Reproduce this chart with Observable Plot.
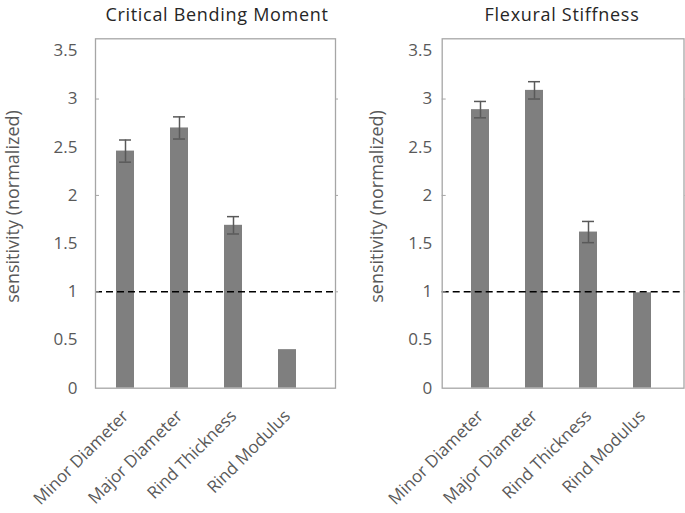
<!DOCTYPE html>
<html>
<head>
<meta charset="utf-8">
<script src="https://cdn.jsdelivr.net/npm/d3@7"></script>
<script src="https://cdn.jsdelivr.net/npm/@observablehq/plot@0.6"></script>
<style>
  html, body { margin: 0; padding: 0; background: #fff; }
  #wrap { position: relative; width: 685px; height: 513px; font-family: "Open Sans", sans-serif; }
  .panel { position: absolute; top: 0; }
  .title { position: absolute; top: 2px; font-size: 18px; line-height: 25px; letter-spacing: 0.7px; color: #262626; text-align: center; white-space: nowrap; transform: translateX(-50%); }
</style>
</head>
<body>
<div id="wrap"></div>
<script>
// ---- data ----
const categories = ["Minor Diameter", "Major Diameter", "Rind Thickness", "Rind Modulus"];
const titles = ["Critical Bending Moment", "Flexural Stiffness"];
const yLabel = "sensitivity (normalized)";
const yTicks = [0, 0.5, 1, 1.5, 2, 2.5, 3, 3.5];
const yMinorTicks = [1, 2, 3];
const momentValues = [2.46, 2.70, 1.69, 0.40];
const momentErrors = [0.115, 0.115, 0.09, 0];
const stiffnessValues = [2.89, 3.09, 1.62, 0.99];
const stiffnessErrors = [0.085, 0.09, 0.11, 0];
const referenceLine = [1];

function panel(values, errors, cfg) {
  const data = categories.map((c, i) => ({cat: c, v: values[i], e: errors[i]}));
  const err = data.filter(d => d.e > 0);
  return Plot.plot({
    width: cfg.width,
    height: 513,
    marginTop: 38.3,
    marginBottom: 125.3,
    marginLeft: cfg.marginLeft,
    marginRight: cfg.marginRight,
    style: {fontFamily: "Open Sans, sans-serif", fontSize: "17px", color: "#595959", background: "transparent", overflow: "visible"},
    x: {domain: categories, range: cfg.xRange, paddingInner: 0.667, paddingOuter: 0.333, axis: null},
    y: {domain: [0, 3.625], axis: null},
    marks: [
      Plot.barY(data, {x: "cat", y: "v", fill: "#7f7f7f"}),
      Plot.ruleX(err, {x: "cat", y1: d => d.v - d.e, y2: d => d.v + d.e, stroke: "#595959", strokeWidth: 1.5}),
      Plot.tickY(err, {x: "cat", y: d => d.v + d.e, stroke: "#595959", strokeWidth: 1.5, insetLeft: 3, insetRight: 3}),
      Plot.tickY(err, {x: "cat", y: d => d.v - d.e, stroke: "#595959", strokeWidth: 1.5, insetLeft: 3, insetRight: 3}),
      Plot.ruleY(referenceLine, {stroke: "#000", strokeWidth: 1.6, strokeDasharray: "7,4"}),
      Plot.frame({stroke: "#a6a6a6", strokeWidth: 1.3}),
      Plot.axisY(yMinorTicks, {anchor: "left", tickSize: -4, tickFormat: () => "", stroke: "#a6a6a6", label: null}),
      Plot.axisY(yMinorTicks, {anchor: "right", tickSize: 2, tickFormat: () => "", stroke: "#a6a6a6", label: null}),
      Plot.axisY(yTicks, {tickSize: 0, tickPadding: cfg.tickPadding, tickFormat: d3.format("~g"), fontSize: 17, fill: "#595959", label: null}),
      Plot.axisX({tickSize: 0, tickPadding: 25, tickRotate: -45, fontSize: 17, fill: "#595959", label: null}),
      Plot.text([yLabel], {frameAnchor: "left", textAnchor: "middle", rotate: -90, dx: cfg.labelDx, dy: -7, fontSize: 18, fill: "#595959"})
    ]
  });
}

const wrap = document.getElementById("wrap");
const cfgs = [
  {left: 0, width: 340, marginLeft: 95, marginRight: 5, xRange: [98, 314], tickPadding: 18, labelDx: -82, titleX: 217},
  {left: 340, width: 345, marginLeft: 101.7, marginRight: 1.5, xRange: [113, 329], tickPadding: 10, labelDx: -64.7, titleX: 562}
];
[[momentValues, momentErrors], [stiffnessValues, stiffnessErrors]].forEach(([vals, errs], i) => {
  const cfg = cfgs[i];
  const div = document.createElement("div");
  div.className = "panel";
  div.style.left = cfg.left + "px";
  div.appendChild(panel(vals, errs, cfg));
  wrap.appendChild(div);
  const t = document.createElement("div");
  t.className = "title";
  t.style.left = cfg.titleX + "px";
  t.textContent = titles[i];
  wrap.appendChild(t);
});
</script>
</body>
</html>
